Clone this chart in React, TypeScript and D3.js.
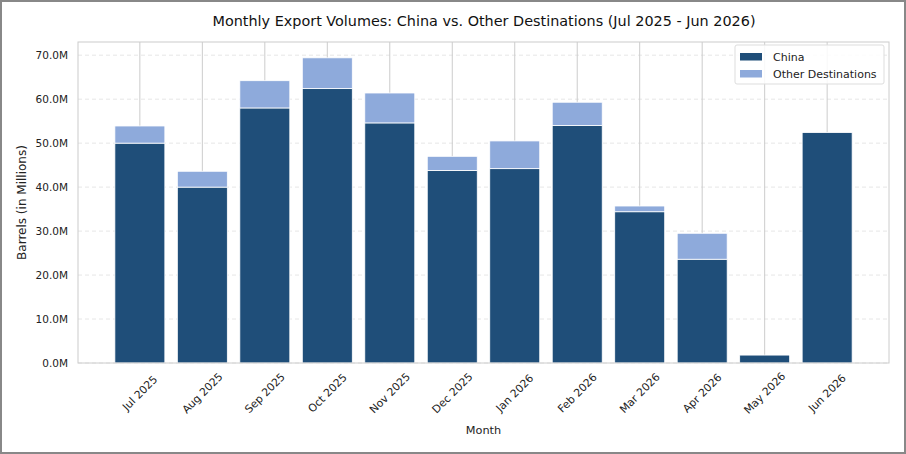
import React from "react";
import * as d3 from "d3";

const months = ["Jul 2025", "Aug 2025", "Sep 2025", "Oct 2025", "Nov 2025", "Dec 2025", "Jan 2026", "Feb 2026", "Mar 2026", "Apr 2026", "May 2026", "Jun 2026"];
const china = [50.0, 40.0, 58.0, 62.4, 54.6, 43.8, 44.2, 54.0, 34.4, 23.6, 1.8, 52.4];
const other = [3.9, 3.6, 6.2, 7.0, 6.8, 3.2, 6.3, 5.3, 1.3, 5.9, 0, 0];
const yTicks = [0, 10, 20, 30, 40, 50, 60, 70];

const W = 906;
const H = 454;
const M = { left: 78, right: 889, top: 42, bottom: 363 };
const FONT = "DejaVu Sans, sans-serif";
const CHINA_COLOR = "#1f4e79";
const OTHER_COLOR = "#8eaadb";

export default function App() {
  const x = d3.scaleLinear().domain([-0.99, 11.99]).range([M.left, M.right]);
  const y = d3.scaleLinear().domain([0, 73]).range([M.bottom, M.top]);
  const bw = x(0.4) - x(-0.4);

  return (
    <div style={{ position: "fixed", left: 0, top: 0 }}>
      <svg width={W} height={H} style={{ display: "block", background: "#fff" }} fontFamily={FONT}>
        <rect x={1} y={1} width={W - 2} height={H - 2} fill="#fff" stroke="#888" strokeWidth={2} />
        <text x={484} y={26} textAnchor="middle" fontSize={14.4} fill="#111">
          Monthly Export Volumes: China vs. Other Destinations (Jul 2025 - Jun 2026)
        </text>

        {/* grid */}
        {yTicks.map((t) => (
          <line key={"hg" + t} x1={M.left} x2={M.right} y1={y(t)} y2={y(t)} stroke="#e3e3e3" strokeDasharray="4,3" strokeWidth={0.9} />
        ))}
        {months.map((m, i) => (
          <line key={"vg" + m} x1={x(i)} x2={x(i)} y1={M.top} y2={M.bottom} stroke="#cccccc" strokeWidth={1} />
        ))}

        {/* stacked bars */}
        {months.map((m, i) => (
          <g key={"b" + m}>
            <rect x={x(i) - bw / 2} width={bw} y={y(china[i])} height={y(0) - y(china[i])} fill={CHINA_COLOR} stroke="#ffffff" strokeWidth={0.8} />
            {other[i] > 0 && (
              <rect x={x(i) - bw / 2} width={bw} y={y(china[i] + other[i])} height={y(china[i]) - y(china[i] + other[i])} fill={OTHER_COLOR} stroke="#ffffff" strokeWidth={0.8} />
            )}
          </g>
        ))}

        {/* frame */}
        <rect x={M.left} y={M.top} width={M.right - M.left} height={M.bottom - M.top} fill="none" stroke="#cccccc" strokeWidth={1} />

        {/* y axis */}
        {yTicks.map((t) => (
          <text key={"yt" + t} x={M.left - 10} y={y(t)} dy="0.35em" textAnchor="end" fontSize={10.5} fill="#222">
            {t.toFixed(1) + "M"}
          </text>
        ))}
        <text transform={`translate(26,${(M.top + M.bottom) / 2}) rotate(-90)`} textAnchor="middle" fontSize={12} fill="#222">
          Barrels (in Millions)
        </text>

        {/* x axis */}
        {months.map((m, i) => (
          <text key={"xt" + m} transform={`translate(${x(i)},${M.bottom + 30}) rotate(-45)`} textAnchor="middle" dy="0.35em" fontSize={10.8} fill="#222">
            {m}
          </text>
        ))}
        <text x={(M.left + M.right) / 2} y={434} textAnchor="middle" fontSize={11.3} fill="#222">
          Month
        </text>

        {/* legend */}
        <rect x={735} y={45} width={149} height={39} rx={2} fill="#fff" fillOpacity={0.85} stroke="#dddddd" strokeWidth={1} />
        <rect x={740} y={53} width={22} height={7.5} fill={CHINA_COLOR} />
        <text x={773} y={57} dy="0.35em" fontSize={11} fill="#222">China</text>
        <rect x={740} y={70} width={22} height={7.5} fill={OTHER_COLOR} />
        <text x={773} y={74} dy="0.35em" fontSize={11} fill="#222">Other Destinations</text>
      </svg>
    </div>
  );
}
